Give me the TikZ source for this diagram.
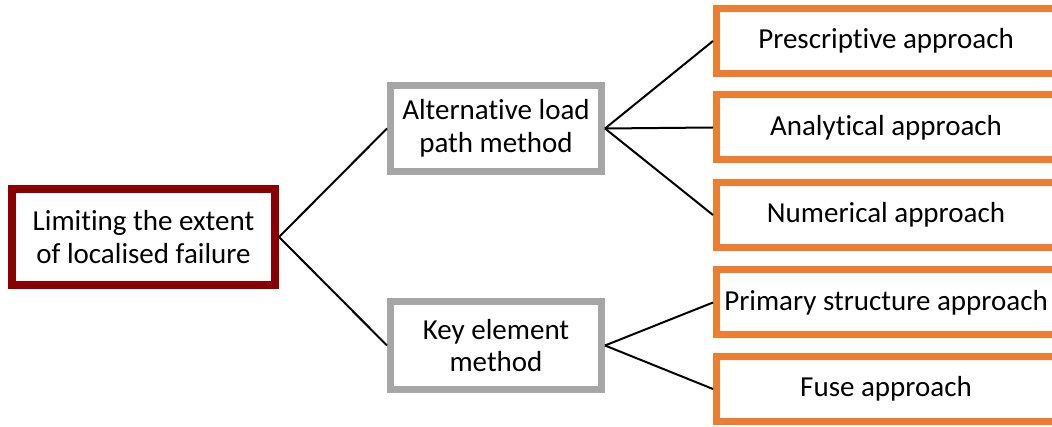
\documentclass[tikz,border=0pt]{standalone}
\usepackage{fontspec}
\setmainfont{Carlito}[RawFeature={-liga;-calt;-dlig}]
\definecolor{rootred}{HTML}{8B0000}
\definecolor{midgray}{HTML}{A6A6A6}
\definecolor{leaforange}{HTML}{ED7D31}
\begin{document}
\begin{tikzpicture}[x=1pt,y=-1pt,
  box/.style={draw, rectangle, fill=white, align=center, inner sep=0pt,
    font=\fontsize{29}{32.5}\selectfont},
  rootbox/.style={box, draw=rootred, line width=8pt, minimum width=263pt, minimum height=96pt},
  methodbox/.style={box, draw=midgray, line width=7pt, minimum width=211pt},
  leafbox/.style={box, draw=leaforange, line width=7pt, minimum width=339pt, minimum height=65pt},
  link/.style={draw=black, line width=2pt}]
\useasboundingbox (0,0) rectangle (1052,427);
\clip (0,0) rectangle (1052,427);

% root
\node[rootbox] (root) at (143.5,237) {Limiting the extent\\of localised failure};

% methods
\node[methodbox, minimum height=86pt] (alp) at (496,128.5) {Alternative load\\path method};
\node[methodbox, minimum height=88pt] (kem) at (496,345.5) {Key element\\method};

% approaches
\node[leafbox] (presc) at (886,41)    {Prescriptive approach};
\node[leafbox] (anal)  at (886,127.5) {Analytical approach};
\node[leafbox] (numer) at (886,215)   {Numerical approach};
\node[leafbox] (prim)  at (886,302.5) {Primary structure approach};
\node[leafbox] (fuse)  at (886,389)   {Fuse approach};

% connectors
\draw[link] (root.east) -- (alp.west);
\draw[link] (root.east) -- (kem.west);
\draw[link] (alp.east) -- (presc.west);
\draw[link] (alp.east) -- (anal.west);
\draw[link] (alp.east) -- (numer.west);
\draw[link] (kem.east) -- (prim.west);
\draw[link] (kem.east) -- (fuse.west);
\end{tikzpicture}
\end{document}
